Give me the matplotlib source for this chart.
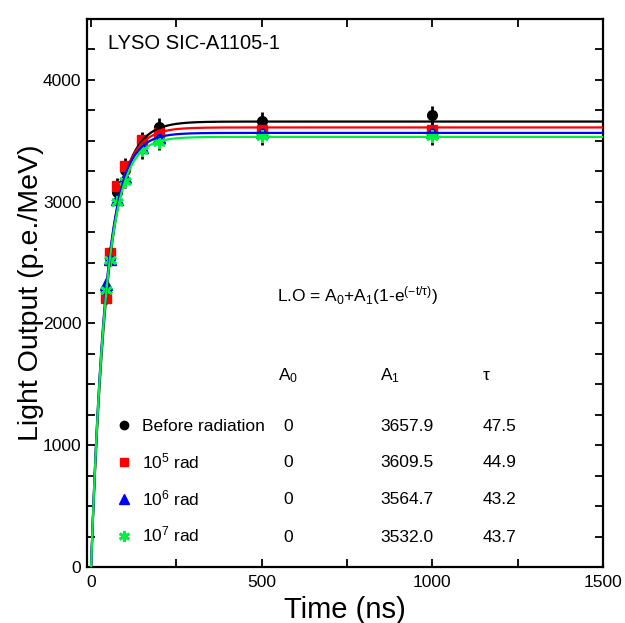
import numpy as np
import matplotlib
matplotlib.use("Agg")
import matplotlib.pyplot as plt
from matplotlib.lines import Line2D
from matplotlib.ticker import MultipleLocator

plt.rcParams['font.family'] = ['Liberation Sans', 'DejaVu Sans']
plt.rcParams['mathtext.fontset'] = 'custom'
plt.rcParams['mathtext.rm'] = 'Liberation Sans'
plt.rcParams['mathtext.it'] = 'Liberation Sans'
plt.rcParams['mathtext.default'] = 'regular'

# gate times (ns)
gate = [45, 55, 75, 100, 150, 200, 500, 1000]

# light output (p.e./MeV)
lo_before = [2260, 2540, 3080, 3260, 3490, 3614, 3666, 3710]
lo_1e5 = [2205, 2578, 3129, 3292, 3505, 3560, 3586, 3586]
lo_1e6 = [2322, 2530, 3020, 3200, 3450, 3530, 3573, 3573]
lo_1e7 = [2273, 2523, 3000, 3172, 3421, 3491, 3537, 3540]

# fit results L.O = A0 + A1(1 - exp(-t/tau))
labels = ["Before radiation", "10$^5$ rad", "10$^6$ rad", "10$^7$ rad"]
a0 = [0, 0, 0, 0]
a1 = [3657.9, 3609.5, 3564.7, 3532.0]
tau = [47.5, 44.9, 43.2, 43.7]

colors = ["black", "#ff0000", "#0000ff", "#00f040"]
markers = ["o", "s", "^", (6, 2, 0)]
msizes = [7, 7, 8, 9]
series = [lo_before, lo_1e5, lo_1e6, lo_1e7]

fig = plt.figure(figsize=(6.25, 6.23), dpi=100)
ax = fig.add_axes([87 / 625, 56 / 623, 516 / 625, 548 / 623])

tt = np.linspace(0, 1500, 1500)
for i, vals in enumerate(series):
    v = np.array(vals, dtype=float)
    ax.errorbar(gate, v, yerr=0.02 * v, fmt="none", ecolor="black",
                elinewidth=2, capsize=0, zorder=2)
    ax.plot(gate, v, linestyle="none", marker=markers[i], ms=msizes[i],
            color=colors[i], mec=colors[i], mew=2 if i == 3 else 1, zorder=3)
for i in range(4):
    fit = a0[i] + a1[i] * (1 - np.exp(-tt / tau[i]))
    ax.plot(tt, fit, color=colors[i], lw=1.6, zorder=4)

ax.set_xlim(-12, 1500)
ax.set_ylim(0, 4500)
ax.xaxis.set_major_locator(MultipleLocator(500))
ax.xaxis.set_minor_locator(MultipleLocator(250))
ax.yaxis.set_major_locator(MultipleLocator(1000))
ax.yaxis.set_minor_locator(MultipleLocator(250))
ax.tick_params(which="both", direction="in", length=6, width=1.3,
               top=True, right=True, labelsize=12.5)
ax.tick_params(axis="x", pad=6)
ax.tick_params(axis="y", pad=4)
for s in ax.spines.values():
    s.set_linewidth(1.6)

ax.set_xlabel("Time (ns)", fontsize=21, labelpad=4)
ax.set_ylabel("Light Output (p.e./MeV)", fontsize=20.5, labelpad=-1)

ax.text(0.041, 0.955, "LYSO SIC-A1105-1", transform=ax.transAxes,
        fontsize=14.5, va="center", ha="left")
ax.text(0.368, 0.4945, r"L.O = A$_0$+A$_1$(1-e$^{(-t/τ)}$)",
        transform=ax.transAxes, fontsize=12.5, va="center", ha="left")

# fit table
ax.text(0.370, 0.350, "A$_0$", transform=ax.transAxes, fontsize=12.5, va="center")
ax.text(0.568, 0.350, "A$_1$", transform=ax.transAxes, fontsize=12.5, va="center")
ax.text(0.767, 0.350, "τ", transform=ax.transAxes, fontsize=12.5, va="center")
rows_y = [0.2555, 0.190, 0.124, 0.0547]
for i in range(4):
    ax.text(0.380, rows_y[i], f"{a0[i]}", transform=ax.transAxes,
            fontsize=12.5, va="center")
    ax.text(0.568, rows_y[i], f"{a1[i]:.1f}", transform=ax.transAxes,
            fontsize=12.5, va="center")
    ax.text(0.766, rows_y[i], f"{tau[i]:.1f}", transform=ax.transAxes,
            fontsize=12.5, va="center")

handles = [Line2D([], [], linestyle="none", marker=markers[i], ms=msizes[i] - 1,
                  color=colors[i], mew=2 if i == 3 else 1) for i in range(4)]
leg = ax.legend(handles, labels, loc="upper left",
                bbox_to_anchor=(115 / 625, 1 - 419 / 623),
                bbox_transform=fig.transFigure, frameon=False, fontsize=12.5,
                borderpad=0, borderaxespad=0, handlelength=1.0,
                handletextpad=0.55, labelspacing=0.98)

fig.savefig("out.png", dpi=100)
